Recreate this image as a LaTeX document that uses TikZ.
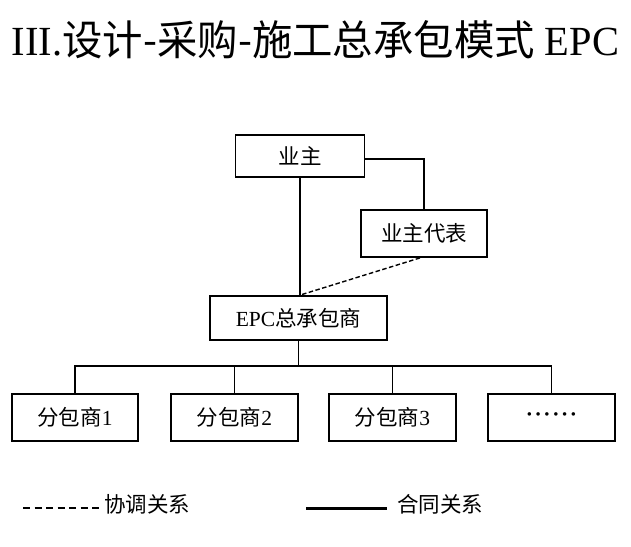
\documentclass[tikz,border=0pt]{standalone}
\usepackage{fontspec}
\setmainfont{Liberation Serif}
\newfontfamily\cjk{Noto Sans CJK SC}
\newcommand{\mydot}{{\bfseries\symbol{"00B7}}}
\begin{document}
\begin{tikzpicture}[x=1pt,y=-1pt,
  box/.style={draw=black,line width=1.8pt,inner sep=0pt,minimum height=45pt,font=\fontsize{21.5}{21.5}\selectfont},
  conn/.style={line width=1.8pt,black},
  coord/.style={line width=1.4pt,black,dash pattern=on 4.5pt off 2.5pt},
  lab/.style={font=\fontsize{21.5}{21.5}\selectfont,inner sep=0pt,anchor=west}]
\useasboundingbox (0,0) rectangle (631,546);
\fill[white] (0,0) rectangle (631,546);
% title
\node[inner sep=0pt] (title) at (315.5,40) {\resizebox{607pt}{35pt}{III.{\cjk 设计-采购-施工总承包模式} EPC}};
% boxes
\node[box,minimum width=129pt,minimum height=42pt] (owner) at (300,156) {\cjk 业主};
\node[box,minimum width=126pt,minimum height=47pt] (rep) at (424,233.5) {\cjk 业主代表};
\node[box,minimum width=177pt,minimum height=44pt] (epc) at (298.5,318) {EPC{\cjk 总承包商}};
\node[box,minimum width=126pt,minimum height=47pt] (s1) at (75,417.5) {{\cjk 分包商}1};
\node[box,minimum width=127pt,minimum height=47pt] (s2) at (234.5,417.5) {{\cjk 分包商}2};
\node[box,minimum width=127pt,minimum height=47pt] (s3) at (392.5,417.5) {{\cjk 分包商}3};
\node[box,minimum width=127pt,minimum height=47pt] (s4) at (551.5,417.5) {\mydot\hspace{1.6pt}\mydot\hspace{1.6pt}\mydot\hspace{1.6pt}\mydot\hspace{1.6pt}\mydot\hspace{1.6pt}\mydot};
% connectors
\coordinate (bus) at (298,366);
\draw[conn] (owner.south) -- (owner.south |- epc.north);
\draw[conn] ([yshift=-3pt]owner.east) -| (rep.north);
\draw[coord] ([xshift=-4pt]rep.south) -- (owner.south |- epc.north);
\draw[conn] (epc.south) -- (epc.south |- bus);
\draw[conn] (s1.north) |- (s4.north |- bus) -- (s4.north);
\draw[conn] (s2.north) -- (s2.north |- bus);
\draw[conn] (s3.north) -- (s3.north |- bus);
% legend
\coordinate (la) at (23,508);
\coordinate (lb) at (102,508);
\coordinate (lc) at (306,508);
\coordinate (ld) at (387,508);
\draw[line width=1.5pt,dash pattern=on 7pt off 4.5pt] (la) -- (lb);
\node[lab] (t1) at (104,504) {\cjk 协调关系};
\draw[line width=3pt] (lc) -- (ld);
\node[lab] (t2) at (397,504) {\cjk 合同关系};
\end{tikzpicture}
\end{document}
